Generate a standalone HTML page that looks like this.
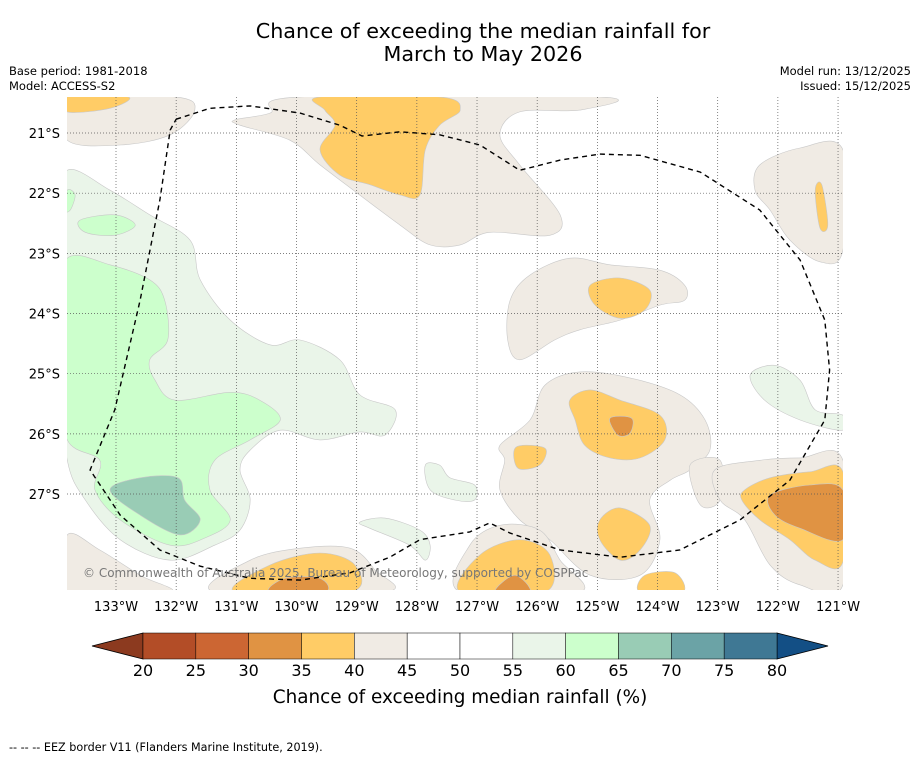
<!DOCTYPE html>
<html><head><meta charset="utf-8"><style>
body{margin:0;background:#fff;}
svg text{font-family:"DejaVu Sans","Liberation Sans",sans-serif;}
</style></head><body>
<svg id="fig" width="919" height="758" xmlns="http://www.w3.org/2000/svg">
<rect width="919" height="758" fill="#fff"/>
<text x="483" y="38" font-size="20.7" text-anchor="middle">Chance of exceeding the median rainfall for</text>
<text x="483" y="61" font-size="20.7" text-anchor="middle">March to May 2026</text>
<text x="9" y="75" font-size="11.5">Base period: 1981-2018</text>
<text x="9" y="90" font-size="11.5">Model: ACCESS-S2</text>
<text x="911" y="75" font-size="11.5" text-anchor="end">Model run: 13/12/2025</text>
<text x="911" y="90" font-size="11.5" text-anchor="end">Issued: 15/12/2025</text>
<defs><clipPath id="mc"><rect x="67" y="97" width="776" height="493"/></clipPath></defs>
<g id="map" clip-path="url(#mc)"></g>
<g id="grid"></g>
<g id="eez" clip-path="url(#mc)"></g>
<text x="83" y="577" font-size="12" fill="#777">© Commonwealth of Australia 2025, Bureau of Meteorology, supported by COSPPac</text>
<g id="axes"></g>
<g id="cbar"></g>
<text x="460" y="703" font-size="18.4" text-anchor="middle">Chance of exceeding median rainfall (%)</text>
<text x="9" y="751" font-size="11.2">-- -- -- EEZ border V11 (Flanders Marine Institute, 2019).</text>
</svg>
<script>
const cbLevels=[20,25,30,35,40,45,50,55,60,65,70,75,80];
const cbColors=["#b34d27","#cc6633","#e09343","#ffcc66","#f0ebe4","#ffffff","#ffffff","#eaf5e9","#ccffcc","#99ccb5","#6ba3a6","#3f7894"];
const lonTicks=[133,132,131,130,129,128,127,126,125,124,123,122,121];
const latTicks=[21,22,23,24,25,26,27];
const latLabels=["21°S","22°S","23°S","24°S","25°S","26°S","27°S"];
// contour regions: [lower bound level, [[lonW, latS], ...]]
const regions=[
[40,[[133.81,20.40],[132.02,20.40],[131.69,20.62],[132.10,21.03],[132.93,21.20],[133.81,21.12]]],
[40,[[131.02,20.78],[130.44,20.67],[129.94,20.40],[124.96,20.40],[125.29,20.62],[126.29,20.65],[126.62,21.03],[126.29,21.53],[125.62,22.36],[125.79,22.70],[126.79,22.65],[127.28,22.86],[127.78,22.86],[128.28,22.53],[128.95,22.03],[129.61,21.53],[130.11,21.12],[130.94,20.87]]],
[40,[[122.30,21.53],[121.63,21.25],[120.92,21.28],[120.92,22.95],[121.30,23.14],[121.80,22.78],[122.13,22.28],[122.38,21.95]]],
[40,[[126.45,23.78],[126.12,23.36],[125.46,23.08],[124.79,23.19],[123.96,23.28],[123.55,23.53],[123.55,23.78],[123.96,23.86],[124.62,24.11],[125.29,24.27],[125.71,24.44],[126.29,24.77],[126.49,24.44]]],
[40,[[126.62,26.19],[126.12,25.77],[125.87,25.19],[125.29,24.97],[124.46,25.07],[123.63,25.35],[123.21,25.77],[123.13,26.27],[123.46,26.60],[123.79,26.77],[124.13,27.10],[123.96,27.76],[124.29,28.35],[125.12,28.35],[125.79,27.76],[126.29,27.43],[126.62,26.93],[126.54,26.44]]],
[40,[[123.46,26.52],[122.96,26.44],[122.96,27.10],[123.29,27.18]]],
[40,[[123.05,26.60],[122.30,26.44],[121.63,26.40],[120.92,26.44],[120.92,28.51],[121.63,28.51],[122.13,28.18],[122.55,27.43],[122.96,27.10]]],
[40,[[127.28,28.63],[127.12,27.85],[126.62,27.52],[125.96,27.60],[125.62,28.10],[125.29,28.63]]],
[40,[[131.36,28.63],[130.77,28.10],[129.94,27.90],[129.11,27.90],[128.70,28.26],[128.53,28.63]]],
[40,[[133.81,27.68],[133.27,27.93],[132.60,28.35],[132.10,28.63],[133.81,28.63]]],
[35,[[133.81,20.40],[132.80,20.40],[133.10,20.59],[133.81,20.65]]],
[35,[[129.61,20.40],[127.62,20.40],[127.28,20.62],[127.62,20.87],[127.86,21.28],[127.95,22.03],[128.28,22.03],[128.78,21.86],[129.28,21.70],[129.61,21.28],[129.36,20.87],[129.53,20.62]]],
[35,[[121.38,21.95],[121.27,21.86],[121.17,22.53],[121.30,22.58]]],
[35,[[125.12,23.53],[124.62,23.41],[124.13,23.61],[124.21,23.94],[124.62,24.08],[125.04,23.86]]],
[35,[[125.46,25.44],[125.12,25.27],[124.62,25.44],[123.96,25.69],[123.88,26.10],[124.29,26.40],[124.79,26.40],[125.21,26.19],[125.37,25.77]]],
[35,[[126.35,26.22],[125.87,26.24],[125.96,26.52],[126.32,26.57]]],
[35,[[124.96,27.43],[124.62,27.23],[124.13,27.52],[124.29,27.93],[124.62,28.10],[124.96,27.76]]],
[35,[[124.29,28.63],[124.21,28.35],[123.71,28.31],[123.58,28.63]]],
[35,[[122.55,26.93],[122.13,26.73],[121.47,26.63],[120.92,26.63],[120.92,28.13],[121.38,28.10],[121.80,27.76],[122.30,27.43],[122.60,27.10]]],
[35,[[127.28,28.63],[126.95,28.01],[126.29,27.76],[125.79,28.01],[125.87,28.63]]],
[35,[[131.02,28.63],[130.44,28.18],[129.61,27.98],[129.03,28.18],[129.11,28.63]]],
[30,[[124.79,25.74],[124.43,25.74],[124.46,25.99],[124.66,26.02]]],
[30,[[122.13,27.02],[121.47,26.85],[120.92,26.93],[120.92,27.76],[121.63,27.57],[122.05,27.35]]],
[30,[[126.70,28.63],[126.37,28.35],[126.12,28.63]]],
[30,[[130.44,28.63],[130.19,28.40],[129.61,28.40],[129.53,28.63]]],
[55,[[133.81,21.62],[133.10,21.95],[132.44,22.36],[131.77,22.78],[131.60,23.44],[131.10,24.11],[130.44,24.52],[129.94,24.44],[129.28,24.77],[128.95,25.35],[128.36,25.60],[128.53,26.02],[128.95,25.97],[129.61,26.10],[130.27,25.94],[130.77,26.27],[130.94,26.60],[130.77,27.10],[130.94,27.60],[131.36,27.85],[132.10,28.10],[132.93,27.76],[133.51,27.10],[133.81,26.44],[133.93,25.0],[133.93,22.5]]],
[55,[[122.46,25.02],[122.05,24.86],[121.63,25.11],[121.38,25.60],[120.92,25.69],[120.92,25.94],[121.63,25.77],[122.22,25.44]]],
[55,[[127.86,26.52],[127.62,26.52],[127.45,26.73],[127.04,26.85],[127.04,27.10],[127.37,27.10],[127.78,26.93]]],
[55,[[128.95,27.47],[128.53,27.40],[127.95,27.60],[127.78,27.85],[127.86,28.10],[128.12,27.85],[128.78,27.57]]],
[60,[[133.81,23.08],[133.10,23.19],[132.44,23.44],[132.19,23.78],[132.14,24.44],[132.44,24.77],[132.35,25.11],[132.02,25.44],[131.10,25.31],[130.61,25.44],[130.27,25.77],[130.77,26.10],[131.36,26.44],[131.44,26.93],[131.10,27.43],[131.52,27.73],[132.10,27.85],[132.93,27.43],[133.35,26.93],[133.27,26.44],[133.81,26.10],[133.93,25.0],[133.93,24.0]]],
[60,[[133.60,22.45],[133.02,22.36],[132.68,22.53],[133.02,22.70],[133.51,22.65]]],
[60,[[133.81,21.95],[133.68,22.03],[133.76,22.28],[133.86,22.28]]],
[65,[[133.10,26.93],[132.60,26.73],[131.97,26.73],[131.86,27.10],[131.60,27.43],[131.94,27.68],[132.60,27.35]]]
];
const eezLine=[[132.00,20.77],[131.44,20.59],[130.77,20.55],[129.94,20.67],[129.28,20.87],[128.91,21.05],[128.28,20.98],[127.62,21.03],[126.95,21.20],[126.29,21.62],[125.62,21.45],[124.96,21.35],[124.29,21.37],[123.29,21.65],[122.30,22.28],[121.63,23.11],[121.22,24.11],[121.14,24.94],[121.22,25.77],[121.80,26.77],[122.63,27.43],[123.63,27.93],[124.62,28.05],[125.62,27.93],[126.45,27.65],[126.79,27.48],[127.12,27.63],[127.95,27.76],[128.45,28.05],[129.11,28.31],[129.94,28.43],[130.77,28.40],[131.60,28.20],[132.27,27.93],[132.93,27.35],[133.43,26.60],[133.02,25.60],[132.60,23.78],[132.27,22.11],[132.10,20.95],[132.00,20.77]];

const NS="http://www.w3.org/2000/svg";
const PX=60.17;
function xLon(l){return 116+(133-l)*PX;}
function yLat(l){return 133+(l-21)*PX;}
function cbX(v){return 143+(v-20)*(777-143)/60;}
function colorFor(v){return cbColors[cbLevels.indexOf(v)];}
function mk(tag,attrs,parent){const e=document.createElementNS(NS,tag);for(const k in attrs)e.setAttribute(k,attrs[k]);parent.appendChild(e);return e;}
function smoothClosed(pts){
  const n=pts.length;let d="M"+pts[0][0].toFixed(1)+","+pts[0][1].toFixed(1);
  for(let i=0;i<n;i++){
    const p0=pts[(i-1+n)%n],p1=pts[i],p2=pts[(i+1)%n],p3=pts[(i+2)%n];
    const c1=[p1[0]+(p2[0]-p0[0])/6,p1[1]+(p2[1]-p0[1])/6];
    const c2=[p2[0]-(p3[0]-p1[0])/6,p2[1]-(p3[1]-p1[1])/6];
    d+="C"+c1[0].toFixed(1)+","+c1[1].toFixed(1)+" "+c2[0].toFixed(1)+","+c2[1].toFixed(1)+" "+p2[0].toFixed(1)+","+p2[1].toFixed(1);
  }
  return d+"Z";
}
const map=document.getElementById("map");
const order=[40,35,30,55,60,65];
order.forEach(lv=>{
  regions.filter(r=>r[0]===lv).forEach(r=>{
    const pts=r[1].map(p=>[xLon(p[0]),yLat(p[1])]);
    const el=mk("path",{d:smoothClosed(pts),fill:colorFor(lv),stroke:"#c8c8c8","stroke-width":"0.6"},map);
    
    
  });
});
const grid=document.getElementById("grid");
lonTicks.forEach(l=>{
  const g=mk("line",{x1:xLon(l),x2:xLon(l),y1:97,y2:590,stroke:"#555","stroke-width":"0.7","stroke-dasharray":"1,2"},grid);
  
  
});
latTicks.forEach(l=>{
  const g=mk("line",{x1:67,x2:843,y1:yLat(l),y2:yLat(l),stroke:"#555","stroke-width":"0.7","stroke-dasharray":"1,2"},grid);
  
  
});
const eez=document.getElementById("eez");
const ep=mk("polyline",{points:eezLine.map(p=>xLon(p[0]).toFixed(1)+","+yLat(p[1]).toFixed(1)).join(" "),fill:"none",stroke:"#000","stroke-width":"1.4","stroke-dasharray":"5,4"},eez);


const axes=document.getElementById("axes");
lonTicks.forEach(l=>{
  const t=mk("text",{x:xLon(l),y:611,"font-size":"13","text-anchor":"middle"},axes);
  t.textContent=l+"°W";
  
  
});
latTicks.forEach((l,i)=>{
  const t=mk("text",{x:60,y:yLat(l)+5,"font-size":"13","text-anchor":"end"},axes);
  t.textContent=latLabels[i];
  
  
});
const cb=document.getElementById("cbar");
const y0=633,y1=659;
const lt=mk("polygon",{points:`${cbX(20)},${y0} ${cbX(20)},${y1} 92,646`,fill:"#8c3a1f",stroke:"#000","stroke-width":"0.8"},cb);


const rt=mk("polygon",{points:`${cbX(80)},${y0} ${cbX(80)},${y1} 828,646`,fill:"#134f85",stroke:"#000","stroke-width":"0.8"},cb);


cbColors.forEach((c,i)=>{
  const r=mk("rect",{x:cbX(cbLevels[i]),y:y0,width:cbX(cbLevels[i+1])-cbX(cbLevels[i]),height:y1-y0,fill:c,stroke:"#000","stroke-width":"0.5"},cb);
  
  
});
cbLevels.forEach(v=>{
  const t=mk("text",{x:cbX(v),y:676,"font-size":"16","text-anchor":"middle"},cb);
  t.textContent=v;
  
  
});
</script>
</body></html>
